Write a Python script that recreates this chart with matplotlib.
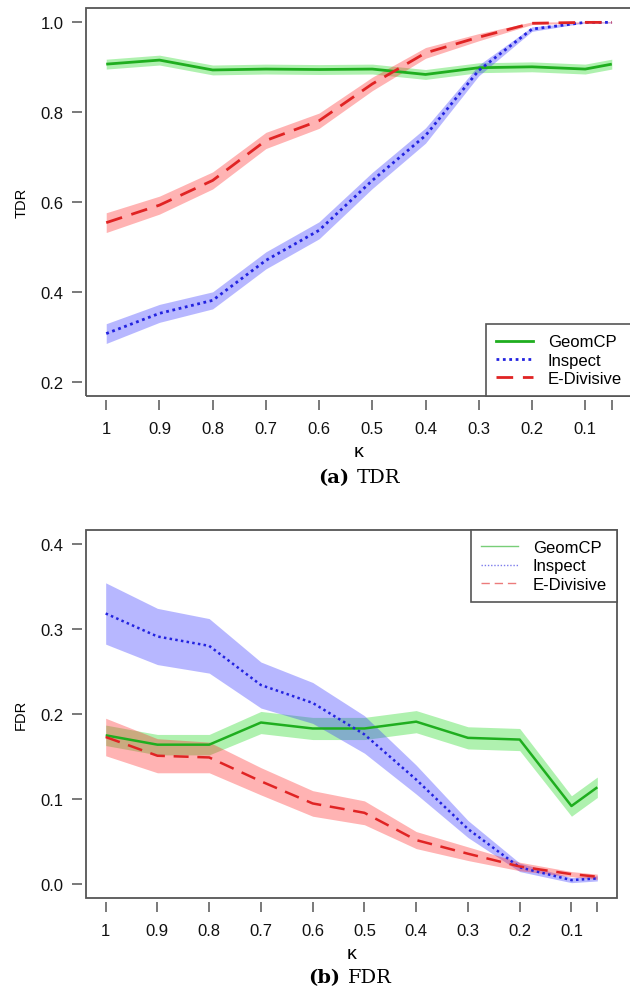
import matplotlib
matplotlib.use('Agg')
import matplotlib.pyplot as plt
import numpy as np
from matplotlib.patches import Rectangle
from matplotlib.lines import Line2D

# kappa values (x axis, reversed)
kappa = [1.0, 0.9, 0.8, 0.7, 0.6, 0.5, 0.4, 0.3, 0.2, 0.1, 0.05]
kappa_labels = ['1', '0.9', '0.8', '0.7', '0.6', '0.5', '0.4', '0.3', '0.2', '0.1', '']
methods = ['GeomCP', 'Inspect', 'E-Divisive']

# (a) TDR
tdr_geom = [0.907, 0.916, 0.894, 0.896, 0.895, 0.896, 0.884, 0.899, 0.901, 0.896, 0.907]
tdr_geom_err = [0.011, 0.011, 0.011, 0.011, 0.011, 0.011, 0.011, 0.011, 0.011, 0.011, 0.011]
tdr_insp = [0.307, 0.352, 0.381, 0.470, 0.537, 0.648, 0.748, 0.893, 0.985, 1.0, 1.0]
tdr_insp_err = [0.022, 0.020, 0.019, 0.019, 0.019, 0.018, 0.017, 0.012, 0.005, 0.001, 0.001]
tdr_ediv = [0.554, 0.593, 0.648, 0.737, 0.781, 0.863, 0.932, 0.967, 0.998, 1.0, 1.0]
tdr_ediv_err = [0.022, 0.020, 0.019, 0.018, 0.017, 0.015, 0.012, 0.008, 0.003, 0.001, 0.001]

# (b) FDR
fdr_geom = [0.175, 0.164, 0.164, 0.190, 0.183, 0.183, 0.191, 0.172, 0.170, 0.092, 0.114]
fdr_geom_err = [0.012, 0.012, 0.012, 0.013, 0.013, 0.013, 0.013, 0.013, 0.013, 0.012, 0.012]
fdr_insp = [0.318, 0.291, 0.280, 0.234, 0.213, 0.176, 0.123, 0.065, 0.020, 0.005, 0.007]
fdr_insp_err = [0.036, 0.033, 0.032, 0.027, 0.024, 0.022, 0.017, 0.010, 0.005, 0.003, 0.003]
fdr_ediv = [0.173, 0.151, 0.149, 0.121, 0.095, 0.084, 0.052, 0.036, 0.021, 0.012, 0.009]
fdr_ediv_err = [0.022, 0.020, 0.018, 0.016, 0.015, 0.014, 0.010, 0.008, 0.005, 0.003, 0.003]

line_col = ['#1fae1f', '#2323e0', '#e02424']
band_col = [(0.1, 0.85, 0.1), (0.2, 0.2, 1.0), (1.0, 0.15, 0.15)]
styles = ['-', (0, (1, 1.3)), (0, (6, 3.5))]

plt.rcParams['font.family'] = ['Liberation Sans', 'DejaVu Sans']

W, H = 630, 995
fig = plt.figure(figsize=(W / 100, H / 100), dpi=100)


def px_axes(l, t, r, b):
    return fig.add_axes([l / W, 1 - b / H, (r - l) / W, (b - t) / H])


def panel(ax, series, errs, ylim, yticks, ylabel, lw, leg_loc, leg_faint):
    x = np.array(kappa)
    for i in range(3):
        y = np.array(series[i])
        e = np.array(errs[i])
        ax.fill_between(x, y - e, y + e, color=band_col[i], alpha=0.35, lw=0)
    for i in range(3):
        ax.plot(x, series[i], color=line_col[i], lw=lw, linestyle=styles[i],
                dash_capstyle='butt', solid_capstyle='butt')
    rng = 1.0 - 0.05
    ax.set_xlim(1.0 + 0.04 * rng, 0.05 - 0.04 * rng)
    yr = ylim[1] - ylim[0]
    ax.set_ylim(ylim[0] - 0.04 * yr, ylim[1] + 0.04 * yr)
    ax.set_xticks(kappa)
    ax.set_xticklabels(kappa_labels)
    ax.set_yticks(yticks)
    ax.set_yticklabels([f'{v:.1f}' for v in yticks], rotation=90, va='center')
    for s in ax.spines.values():
        s.set_color('none')
    ax.spines['bottom'].set_position(('outward', 3))
    ax.spines['left'].set_position(('outward', 3))
    ax.tick_params(axis='both', direction='out', length=7, width=1.1, color='#555555',
                   labelsize=12, labelcolor='#111111')
    ax.tick_params(axis='x', pad=8)
    ax.tick_params(axis='y', pad=6)
    ax.add_patch(Rectangle((0, 0), 1, 1, transform=ax.transAxes, fill=False,
                           lw=1.3, ec='#555555', clip_on=False, zorder=5))
    ax.set_xlabel('\u03ba', fontsize=14, labelpad=5)
    ax.set_ylabel(ylabel, fontsize=10.5, labelpad=9)
    if leg_faint:
        handles = [Line2D([], [], color=line_col[i], lw=1.0, linestyle=styles[i], alpha=0.6)
                   for i in range(3)]
    else:
        handles = [Line2D([], [], color=line_col[i], lw=lw, linestyle=styles[i])
                   for i in range(3)]
    leg = ax.legend(handles, methods, loc=leg_loc, borderaxespad=0, fancybox=False,
                    framealpha=1, edgecolor='#555555', fontsize=12, handlelength=2.2,
                    handletextpad=0.9, borderpad=0.6, labelspacing=0.2)
    leg.get_frame().set_linewidth(1.2)
    leg.set_zorder(6)


ax1 = px_axes(86, 9, 632, 397)
panel(ax1, [tdr_geom, tdr_insp, tdr_ediv], [tdr_geom_err, tdr_insp_err, tdr_ediv_err],
      (0.2, 1.0), [0.2, 0.4, 0.6, 0.8, 1.0], 'TDR', 2.0, 'lower right', False)

ax2 = px_axes(86, 531, 617, 899)
panel(ax2, [fdr_geom, fdr_insp, fdr_ediv], [fdr_geom_err, fdr_insp_err, fdr_ediv_err],
      (0.0, 0.4), [0.0, 0.1, 0.2, 0.3, 0.4], 'FDR', 1.8, 'upper right', True)

# captions
for (xr, xl, yc, tag, name) in [(349, 357, 478, '(a)', 'TDR'), (340, 348, 978, '(b)', 'FDR')]:
    fig.text(xr / W, 1 - yc / H, tag, ha='right', va='center', fontsize=14,
             fontweight='bold', family='DejaVu Serif')
    fig.text(xl / W, 1 - yc / H, name, ha='left', va='center', fontsize=14,
             family='DejaVu Serif')

fig.savefig('out.png', dpi=100)
